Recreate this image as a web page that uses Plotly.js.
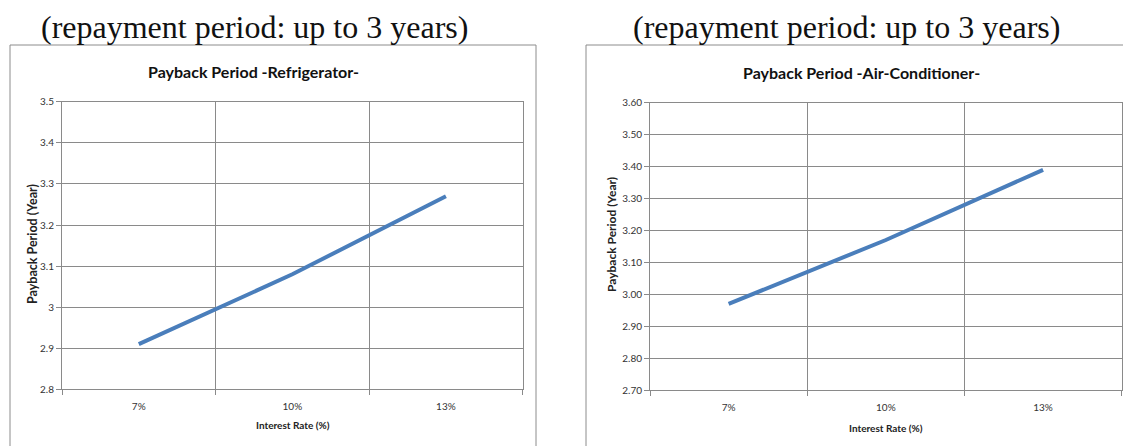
<!DOCTYPE html>
<html>
<head>
<meta charset="utf-8">
<script src="https://cdn.plot.ly/plotly-3.0.1.min.js"></script>
<style>
  html, body { margin: 0; padding: 0; background: #ffffff; }
  #chart { width: 1123px; height: 446px; }
</style>
</head>
<body>
<div id="chart"></div>
<script>
// ---- data ----
const categories = ['7%', '10%', '13%'];
const refrigeratorValues = [2.91, 3.08, 3.27];
const airConditionerValues = [2.97, 3.17, 3.39];
const refrigeratorTicks = [2.8, 2.9, 3.0, 3.1, 3.2, 3.3, 3.4, 3.5];
const refrigeratorTickLabels = ['2.8', '2.9', '3', '3.1', '3.2', '3.3', '3.4', '3.5'];
const airConditionerTicks = [2.7, 2.8, 2.9, 3.0, 3.1, 3.2, 3.3, 3.4, 3.5, 3.6];
const airConditionerTickLabels = ['2.70', '2.80', '2.90', '3.00', '3.10', '3.20', '3.30', '3.40', '3.50', '3.60'];
const pageTitle = '(repayment period: up to 3 years)';
const chartTitles = ['Payback Period -Refrigerator-', 'Payback Period -Air-Conditioner-'];
const xTitle = 'Interest Rate (%)';
const yTitle = 'Payback Period (Year)';

// ---- geometry helpers (figure pixels -> paper) ----
const W = 1123, H = 446;
const px = v => v / W;
const py = v => (H - v) / H;

const lineColor = '#4a7ebb';
const gridColor = '#8a8a8a';
const tickFont = { family: 'Lato, "Liberation Sans", sans-serif', size: 10, color: '#333333' };

const traces = [
  { x: categories, y: refrigeratorValues, type: 'scatter', mode: 'lines',
    line: { color: lineColor, width: 4 }, xaxis: 'x', yaxis: 'y', hoverinfo: 'skip' },
  { x: categories, y: airConditionerValues, type: 'scatter', mode: 'lines',
    line: { color: lineColor, width: 4 }, xaxis: 'x2', yaxis: 'y2', hoverinfo: 'skip' }
];

function xAxis(domain, anchor) {
  return {
    domain: domain, anchor: anchor, type: 'category', range: [-0.5, 2.5],
    tickson: 'boundaries', ticks: 'outside', ticklen: 5, tickcolor: gridColor,
    showgrid: true, gridcolor: gridColor, gridwidth: 1,
    showline: true, linecolor: gridColor, linewidth: 1, mirror: true,
    zeroline: false, tickfont: tickFont, ticklabelstandoff: 8, fixedrange: true
  };
}
function yAxis(domain, anchor, vals, labels, range) {
  return {
    domain: domain, anchor: anchor, range: range,
    tickmode: 'array', tickvals: vals, ticktext: labels,
    ticks: 'outside', ticklen: 5, tickcolor: gridColor,
    showgrid: true, gridcolor: gridColor, gridwidth: 1,
    showline: true, linecolor: gridColor, linewidth: 1, mirror: true,
    zeroline: false, tickfont: tickFont, fixedrange: true
  };
}

const titleFont = { family: '"Liberation Serif", "Times New Roman", serif', size: 32, color: '#111111' };
const chartTitleFont = { family: 'Lato, "Liberation Sans", sans-serif', size: 16, color: '#111111', weight: 'bold' };
const axisTitleFont = { family: 'Lato, "Liberation Sans", sans-serif', size: 10, color: '#222222', weight: 'bold' };
const yTitleFontLeft = { family: 'Lato, "Liberation Sans", sans-serif', size: 12.5, color: '#222222', weight: 'bold' };
const yTitleFontRight = { family: 'Lato, "Liberation Sans", sans-serif', size: 12, color: '#222222', weight: 'bold' };

function ann(text, x, y, font, extra) {
  return Object.assign({ text: text, x: px(x), y: py(y), xref: 'paper', yref: 'paper',
    xanchor: 'center', yanchor: 'middle', showarrow: false, font: font }, extra || {});
}

const layout = {
  width: W, height: H,
  margin: { l: 0, r: 0, t: 0, b: 0, pad: 0 },
  paper_bgcolor: '#ffffff', plot_bgcolor: '#ffffff',
  showlegend: false,
  xaxis: xAxis([px(62), px(522.7)], 'y'),
  yaxis: yAxis([py(389.3), py(101.8)], 'x', refrigeratorTicks, refrigeratorTickLabels, [2.8, 3.5]),
  xaxis2: xAxis([px(650), px(1121.7)], 'y2'),
  yaxis2: yAxis([py(390), py(102.8)], 'x2', airConditionerTicks, airConditionerTickLabels, [2.7, 3.6]),
  shapes: [
    { type: 'rect', xref: 'paper', yref: 'paper', x0: px(10), x1: px(536), y0: -0.1, y1: py(45),
      line: { color: '#8c8c8c', width: 1 }, fillcolor: 'rgba(0,0,0,0)', layer: 'below' },
    { type: 'rect', xref: 'paper', yref: 'paper', x0: px(586), x1: 1.1, y0: -0.1, y1: py(45),
      line: { color: '#8c8c8c', width: 1 }, fillcolor: 'rgba(0,0,0,0)', layer: 'below' }
  ],
  annotations: [
    ann(pageTitle, 254, 27, titleFont),
    ann(pageTitle, 846, 27, titleFont),
    ann(chartTitles[0], 253, 71, chartTitleFont),
    ann(chartTitles[1], 861, 72, chartTitleFont),
    ann(xTitle, 293, 425, axisTitleFont),
    ann(xTitle, 886, 428, axisTitleFont),
    ann(yTitle, 32, 244, yTitleFontLeft, { textangle: -90 }),
    ann(yTitle, 611, 235, yTitleFontRight, { textangle: -90 })
  ]
};

Plotly.newPlot('chart', traces, layout, { staticPlot: true, displayModeBar: false });
</script>
</body>
</html>
